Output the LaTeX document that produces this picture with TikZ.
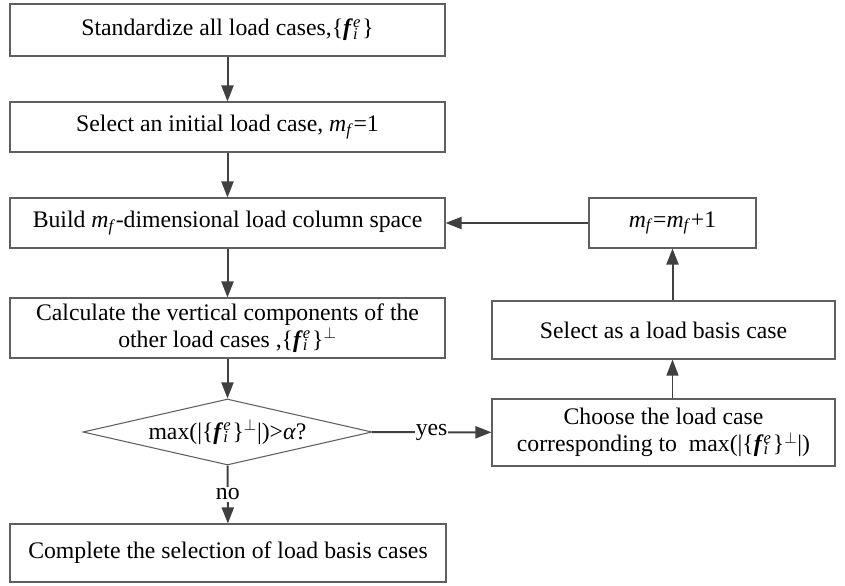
\documentclass[tikz,border=0pt]{standalone}
\usepackage{fontspec}
\setmainfont{LiberationSerif-Regular.ttf}[BoldFont=LiberationSerif-Bold.ttf, ItalicFont=LiberationSerif-Italic.ttf, BoldItalicFont=LiberationSerif-BoldItalic.ttf]
\usepackage{tikz}
\usetikzlibrary{arrows.meta,positioning,calc,shapes.geometric}
\definecolor{boxgray}{RGB}{95,95,95}
\definecolor{arrowgray}{RGB}{64,64,64}
\tikzset{stepbox/.style={rectangle, draw=boxgray, line width=0.8pt, inner sep=0pt, align=center, font=\fontsize{17.8}{20}\selectfont},
	decision/.style={diamond, draw=boxgray, line width=0.8pt, inner sep=0pt, aspect=4.4, font=\fontsize{17.8}{20}\selectfont},
	flow/.style={draw=arrowgray, line width=1.5pt, -{Triangle[length=12pt,width=9pt]}},
	thinflow/.style={draw=arrowgray, line width=0.9pt, -{Triangle[length=12pt,width=9pt]}},
	lbl/.style={fill=white, inner sep=1pt, font=\fontsize{17.8}{20}\selectfont}}
\newcommand{\fie}{\textbf{\textit{f}}\rlap{\textsuperscript{\textit{e}}}\textsubscript{\textit{i}}}
\newcommand{\mf}{\textit{m}\textsubscript{\textit{f}}}

\begin{document}
\begin{tikzpicture}[x=0.75pt,y=-0.75pt]
		\useasboundingbox (0,0) rectangle (845,585);
		% main column
		\node[stepbox, minimum width=435*0.75pt, minimum height=52*0.75pt] (std) at (227.5,30) {Standardize all load cases,\{\fie\,\}};
		\node[stepbox, minimum width=435*0.75pt, minimum height=50*0.75pt] (init) at (227.5,127) {Select an initial load case, \mf=1};
		\node[stepbox, minimum width=435*0.75pt, minimum height=50*0.75pt] (build) at (227.5,223) {Build \mf-dimensional load column space};
		\node[stepbox, minimum width=435*0.75pt, minimum height=60*0.75pt] (calc) at (227.5,328) {Calculate the vertical components of the\\other load cases ,\{\fie\,\}$^{\perp}$};
		\node[decision, minimum width=289*0.75pt, minimum height=66*0.75pt] (test) at (227.5,432) {max(|\{\fie\,\}$^{\perp}$|)>\textit{α}?};
		\node[stepbox, minimum width=436*0.75pt, minimum height=58*0.75pt] (done) at (228,553) {Complete the selection of load basis cases};
		% loop on the right
		\node[stepbox, minimum width=167*0.75pt, minimum height=50*0.75pt] (incr) at (672.5,223) {\mf=\mf+1};
		\node[stepbox, minimum width=343*0.75pt, minimum height=58*0.75pt] (basis) at (663.5,330) {Select as a load basis case};
		\node[stepbox, minimum width=343*0.75pt, minimum height=67*0.75pt] (choose) at (663.5,432.5) {Choose the load case\\corresponding to\ \ max(|\{\fie\,\}$^{\perp}$|)};
		% connectors
		\draw[flow] (std) -- (init);
		\draw[flow] (init) -- (build);
		\draw[flow] (build) -- (calc);
		\draw[flow] (calc) -- (test);
		\draw[flow] (test) -- node[lbl]{no} (done);
		\draw[flow] (test) -- node[lbl, inner sep=0.5pt]{yes} (choose);
		\draw[thinflow] (choose.north -| incr) -- (basis.south -| incr);
		\draw[flow] (basis.north -| incr) -- (incr);
		\draw[flow] (incr) -- (build);
\end{tikzpicture}
\end{document}
